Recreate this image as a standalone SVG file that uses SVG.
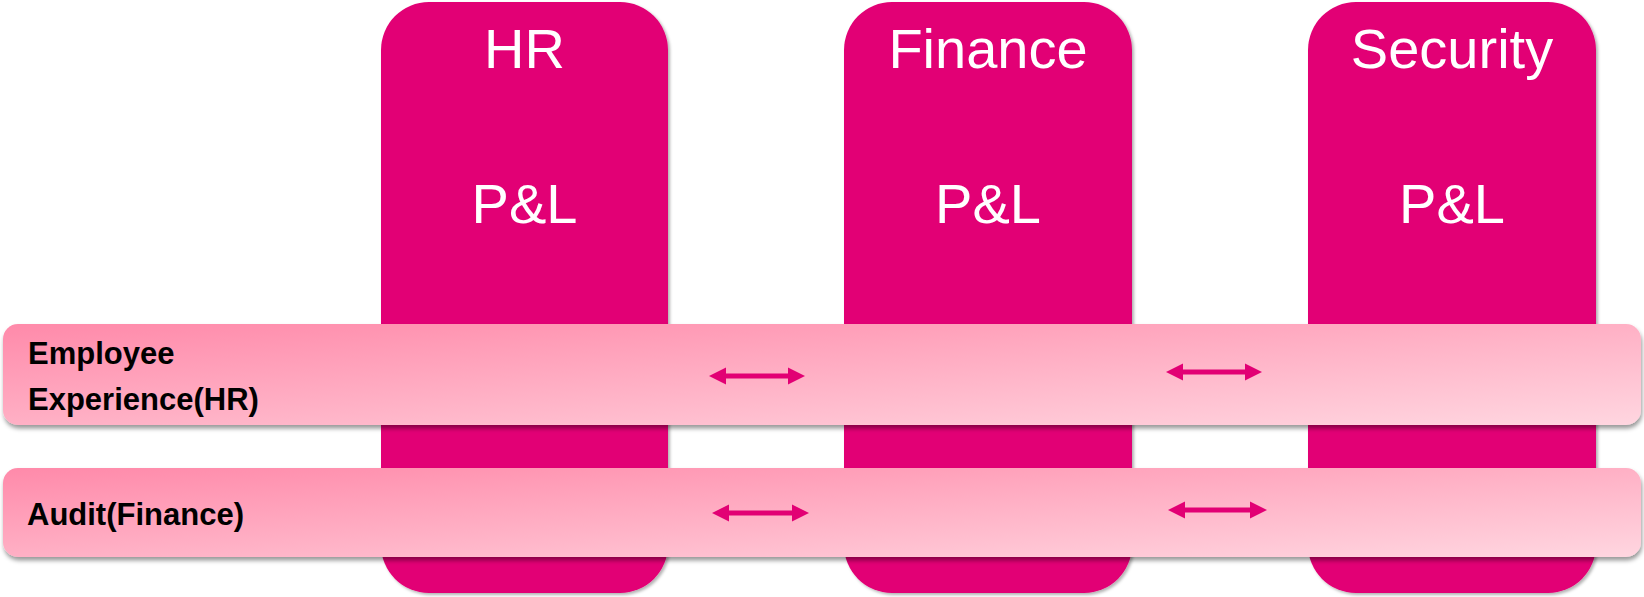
<svg xmlns="http://www.w3.org/2000/svg" width="1644" height="597" viewBox="0 0 1644 597">
  <defs>
    <linearGradient id="bandGrad" x1="0" y1="0" x2="1" y2="1">
      <stop offset="0" stop-color="#FF8AAA"/>
      <stop offset="1" stop-color="#FFD6E0"/>
    </linearGradient>
    <filter id="colShadow" x="-5%" y="-5%" width="115%" height="110%">
      <feDropShadow dx="2" dy="2" stdDeviation="1.8" flood-color="#000" flood-opacity="0.3"/>
    </filter>
    <filter id="bandShadow" x="-2%" y="-10%" width="104%" height="130%">
      <feDropShadow dx="1" dy="3.5" stdDeviation="2.2" flood-color="#000" flood-opacity="0.4"/>
    </filter>
    <marker id="ah" viewBox="0 0 17 17" refX="0" refY="8.5" markerWidth="17" markerHeight="17" markerUnits="userSpaceOnUse" orient="auto-start-reverse" overflow="visible">
      <path d="M0,0 L17,8.5 L0,17 Z" fill="#E20074"/>
    </marker>
  </defs>
  <style>
    .col { fill: #E20074; filter: url(#colShadow); }
    .band { fill: url(#bandGrad); filter: url(#bandShadow); }
    .title { font-family: "Liberation Sans", Arial, sans-serif; font-size: 56px; fill: #FFFFFF; text-anchor: middle; }
    .lbl { font-family: "Liberation Sans", Arial, sans-serif; font-size: 31px; font-weight: bold; fill: #000000; }
    .arr { stroke: #E20074; stroke-width: 5; fill: none; marker-start: url(#ah); marker-end: url(#ah); }
  </style>
  <rect width="1644" height="597" fill="#FFFFFF"/>

  <g id="col-hr">
    <rect class="col" x="381" y="2" width="287" height="591" rx="48" ry="48"/>
    <text class="title" x="524.5" y="68">HR</text>
    <text class="title" x="524.5" y="223">P&amp;L</text>
  </g>
  <g id="col-finance">
    <rect class="col" x="844" y="2" width="288" height="591" rx="48" ry="48"/>
    <text class="title" x="988" y="68">Finance</text>
    <text class="title" x="988" y="223">P&amp;L</text>
  </g>
  <g id="col-security">
    <rect class="col" x="1308" y="2" width="288" height="591" rx="48" ry="48"/>
    <text class="title" x="1452" y="68">Security</text>
    <text class="title" x="1452" y="223">P&amp;L</text>
  </g>

  <g id="band-employee-experience">
    <rect class="band" x="3" y="324" width="1638" height="101" rx="15" ry="15"/>
    <text class="lbl" x="28" y="364">Employee</text>
    <text class="lbl" x="28" y="410">Experience(HR)</text>
  </g>
  <g id="band-audit">
    <rect class="band" x="3" y="468" width="1638" height="89" rx="15" ry="15"/>
    <text class="lbl" x="27" y="525">Audit(Finance)</text>
  </g>

  <g id="connectors">
    <line class="arr" x1="726" y1="376" x2="788" y2="376"/>
    <line class="arr" x1="1183" y1="372" x2="1245" y2="372"/>
    <line class="arr" x1="729" y1="513" x2="792" y2="513"/>
    <line class="arr" x1="1185" y1="510" x2="1250" y2="510"/>
  </g>
</svg>
